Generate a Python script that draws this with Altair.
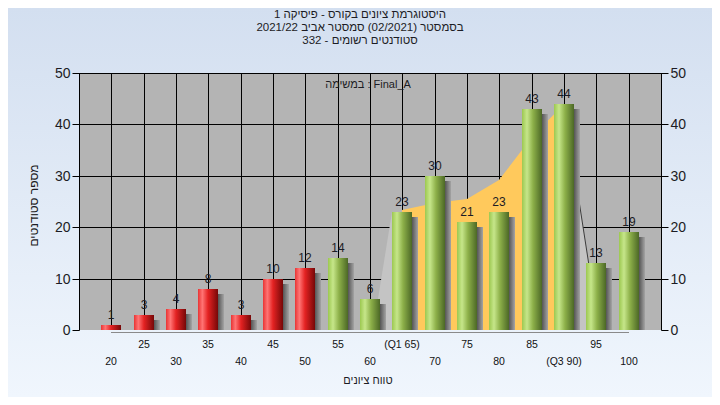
import altair as alt
import pandas as pd

# ---------------- data ----------------
bins = [20, 25, 30, 35, 40, 45, 50, 55, 60, 65, 70, 75, 80, 85, 90, 95, 100]
counts = [1, 3, 4, 8, 3, 10, 12, 14, 6, 23, 30, 21, 23, 43, 44, 13, 19]
tick_labels = ["20", "25", "30", "35", "40", "45", "50", "55", "60", "(Q1 65)",
               "70", "75", "80", "85", "(Q3 90)", "95", "100"]
fail_limit = 55  # bins below this are drawn red

x_ticks = [15, 20, 25, 30, 35, 40, 45, 50, 55, 60, 65, 70, 75, 80, 85, 90, 95, 100, 105]
y_ticks = [0, 10, 20, 30, 40, 50]
y_grid = [10, 20, 30, 40, 50]

# shaded regions behind the bars
q_area_x = [65, 70, 75, 80, 85, 90]
q_area_y = [23.3, 24.8, 25.5, 29.2, 37.5, 44]
low_tail_x = [60.4, 63.45, 65]
low_tail_y = [0, 23, 23]
high_tail_x = [90, 95.4]
high_tail_y = [44, 0]
base_line_x = [20, 100]

title_lines = ["היסטוגרמת ציונים בקורס - פיסיקה 1",
               "בסמסטר  (02/2021)  סמסטר אביב 2021/22",
               "סטודנטים רשומים - 332"]
legend_text = "במשימה : Final_A"
x_title = "טווח ציונים"
y_title = "מספר סטודנטים"

# ---------------- layout ----------------
W, H = 582, 257
PAD = {"left": 71, "top": 65, "right": 51, "bottom": 67}
FONT = "Liberation Sans, DejaVu Sans, sans-serif"
TXT = "#1c1c24"

df = pd.DataFrame({"bin": bins, "count": counts, "label": tick_labels,
                   "row": [i % 2 for i in range(len(bins))]})
one = pd.DataFrame({"d": [0]})

xscale = alt.Scale(domain=[15, 105], nice=False, zero=False, round=True, padding=0)
yscale = alt.Scale(domain=[0, 50], nice=False, round=True, padding=0)


def grad(stops, vertical=False):
    return alt.Gradient(
        gradient="linear",
        stops=[alt.GradientStop(color=c, offset=o) for o, c in stops],
        x1=0, x2=0 if vertical else 1, y1=0, y2=1 if vertical else 0)


X = lambda f: alt.X(f, scale=xscale, axis=None)
Y = lambda f: alt.Y(f, scale=yscale, axis=None)

bg = alt.Chart(one).mark_rect(
    color=grad([(0, "#D3DFF0"), (1, "#F0F6FD")], vertical=True)
).encode(x=alt.value(-PAD["left"]), x2=alt.value(W + PAD["right"]),
         y=alt.value(-PAD["top"]), y2=alt.value(H + PAD["bottom"]))

plotbg = alt.Chart(one).mark_rect(color="#B4B4B4").encode(
    x=alt.value(0), x2=alt.value(W), y=alt.value(0), y2=alt.value(H))

x_axis = alt.Axis(values=x_ticks, grid=False, labels=False, title=None,
                  tickSize=5, tickColor="black", domainColor="black",
                  domainWidth=1, tickWidth=1, zindex=1)

vgrid = alt.Chart(pd.DataFrame({"v": x_ticks})).mark_rule(
    color="black", strokeWidth=1, xOffset=0.5
).encode(x=alt.X("v:Q", scale=xscale, axis=x_axis),
         y=alt.value(0), y2=alt.value(H))

left_axis = alt.Axis(values=y_ticks, orient="left", grid=False,
                     title=y_title, titleAngle=270, titleX=-46, titleY=132,
                     titleAlign="center", titleBaseline="middle",
                     titleFont=FONT, titleFontSize=12, titleFontWeight="normal",
                     titleColor=TXT, labelFont=FONT, labelFontSize=14,
                     labelColor=TXT, labelPadding=2, tickSize=7,
                     tickColor="black", domainColor="black", zindex=1)
right_axis = alt.Axis(values=y_ticks, orient="right", grid=False, title=None,
                      labelFont=FONT, labelFontSize=14, labelColor=TXT,
                      labelPadding=2, tickSize=7, tickColor="black",
                      domainColor="black", zindex=1)

hgrid = alt.Chart(pd.DataFrame({"v": y_grid})).mark_rule(
    color="black", strokeWidth=1, yOffset=0.5
).encode(y=alt.Y("v:Q", scale=yscale, axis=left_axis),
         x=alt.value(0), x2=alt.value(W))

q_area = alt.Chart(pd.DataFrame({"x": q_area_x, "y": q_area_y})).mark_area(
    color="#FFC95C").encode(x=X("x:Q"), y=Y("y:Q"))
low_tail = alt.Chart(pd.DataFrame({"x": low_tail_x, "y": low_tail_y})).mark_area(
    color="#C4C4C4").encode(x=X("x:Q"), y=Y("y:Q"))
high_tail = alt.Chart(pd.DataFrame({"x": high_tail_x, "y": high_tail_y})).mark_area(
    color="#C4C4C4").encode(x=X("x:Q"), y=Y("y:Q"))
tail_line = alt.Chart(pd.DataFrame({"x": high_tail_x, "y": high_tail_y})).mark_line(
    color="#3C3C3C", strokeWidth=1).encode(x=X("x:Q"), y=Y("y:Q"))

base_line = alt.Chart(pd.DataFrame({"a": [base_line_x[0]], "b": [base_line_x[1]]})).mark_rule(
    color="#8A8A8A", strokeWidth=1, yOffset=2.5
).encode(x=X("a:Q"), x2="b:Q", y=alt.value(H))

shadow = alt.Chart(df).mark_bar(
    size=20, xOffset=6, yOffset=5, clip=True,
    color=grad([(0, "#2E2E2E"), (0.65, "#484848"), (1, "#A4A4A4")])
).encode(x=X("bin:Q"), y=Y("count:Q"))

red_bars = alt.Chart(df).transform_filter(
    alt.datum.bin < fail_limit
).mark_bar(
    size=20,
    color=grad([(0, "#E83434"), (0.22, "#FF7474"), (0.5, "#E42222"), (1, "#760808")])
).encode(x=X("bin:Q"), y=Y("count:Q"))

green_bars = alt.Chart(df).transform_filter(
    alt.datum.bin >= fail_limit
).mark_bar(
    size=20,
    color=grad([(0, "#9CC850"), (0.25, "#C6E68A"), (0.55, "#8DB049"), (1, "#4C6826")])
).encode(x=X("bin:Q"), y=Y("count:Q"))

values = alt.Chart(df).mark_text(
    baseline="bottom", dy=-3, font=FONT, fontSize=12, color=TXT
).encode(x=X("bin:Q"),
         y=alt.Y("count:Q", scale=yscale, axis=right_axis),
         text="count:Q")

xlab_up = alt.Chart(df).transform_filter(alt.datum.row == 1).mark_text(
    baseline="middle", font=FONT, fontSize=10.5, color="#111111"
).encode(x=X("bin:Q"), y=alt.value(H + 15), text="label:N")
xlab_lo = alt.Chart(df).transform_filter(alt.datum.row == 0).mark_text(
    baseline="middle", font=FONT, fontSize=10.5, color="#111111"
).encode(x=X("bin:Q"), y=alt.value(H + 32), text="label:N")

xtitle = alt.Chart(one).mark_text(
    text=x_title, baseline="middle", font=FONT, fontSize=11, color=TXT
).encode(x=alt.value(289), y=alt.value(H + 51))

legend = alt.Chart(one).mark_text(
    text=legend_text, baseline="middle", font=FONT, fontSize=11, color=TXT
).encode(x=alt.value(289), y=alt.value(12))

title_y = [-58, -45, -32]
titles = [
    alt.Chart(one).mark_text(
        text=t, baseline="middle", font=FONT, fontSize=11.5, color=TXT
    ).encode(x=alt.value(281), y=alt.value(yy))
    for t, yy in zip(title_lines, title_y)
]

chart = alt.layer(
    bg, plotbg, vgrid, hgrid, q_area, low_tail, high_tail, tail_line,
    base_line, shadow, red_bars, green_bars, values, xlab_up, xlab_lo,
    xtitle, legend, *titles
).resolve_axis(y="independent").properties(
    width=W, height=H, padding=PAD, autosize=alt.AutoSizeParams(type="none"),
    background="#E4ECF8"
).configure_view(strokeWidth=0).configure(font=FONT)

chart.save("out.html", embed_options={"renderer": "svg", "actions": False})
